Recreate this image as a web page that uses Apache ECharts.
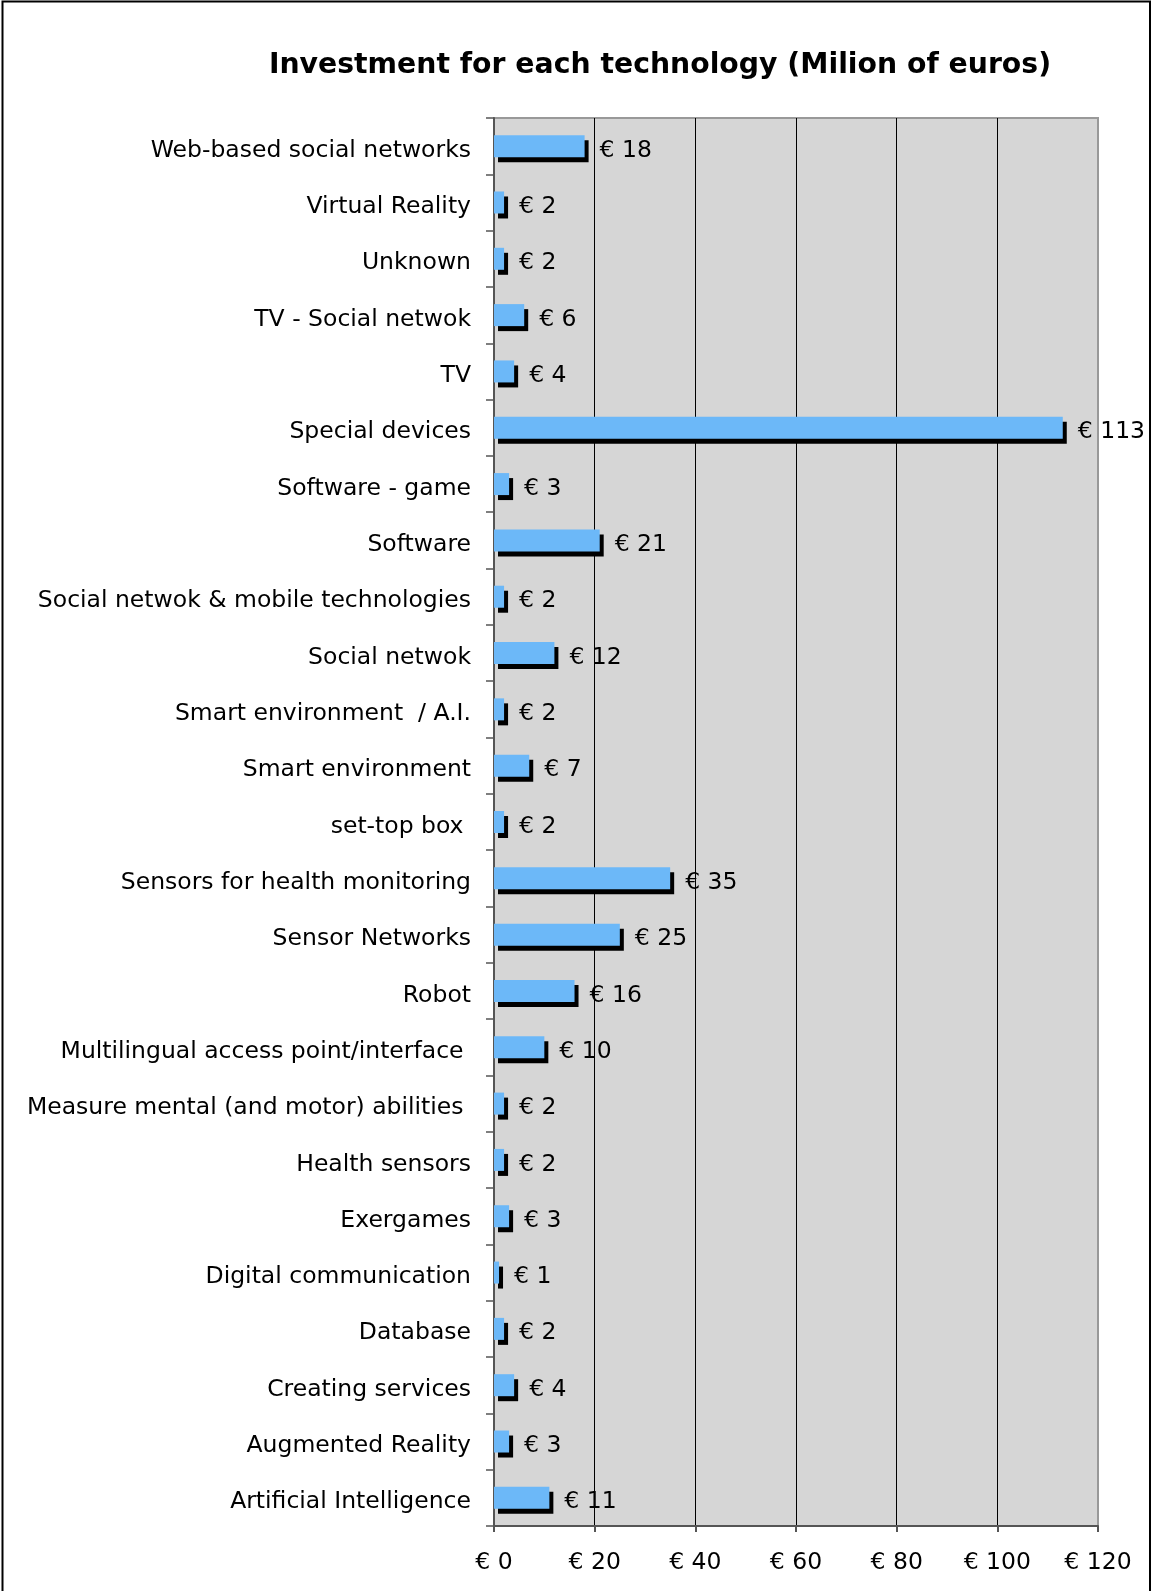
<!DOCTYPE html>
<html>
<head>
<meta charset="utf-8">
<script src="https://cdn.jsdelivr.net/npm/echarts@6/dist/echarts.min.js"></script>
<style>
  html, body { margin: 0; padding: 0; background: #fff; }
  #chart { width: 1151px; height: 1591px; }
</style>
</head>
<body>
<div id="chart"></div>
<script>
// Technologies, listed top to bottom
const technologies = [
  'Web-based social networks',
  'Virtual Reality',
  'Unknown',
  'TV - Social netwok',
  'TV',
  'Special devices',
  'Software - game',
  'Software',
  'Social netwok & mobile technologies',
  'Social netwok',
  'Smart environment  / A.I.',
  'Smart environment',
  'set-top box ',
  'Sensors for health monitoring',
  'Sensor Networks',
  'Robot',
  'Multilingual access point/interface ',
  'Measure mental (and motor) abilities ',
  'Health sensors',
  'Exergames',
  'Digital communication',
  'Database',
  'Creating services',
  'Augmented Reality',
  'Artificial Intelligence'
];

// Investment in millions of euros
const investment = [18, 2, 2, 6, 4, 113, 3, 21, 2, 12, 2, 7, 2, 35, 25, 16, 10, 2, 2, 3, 1, 2, 4, 3, 11];

// Value axis range
const axisMin = 0;
const axisMax = 120;
const axisStep = 20;

const FONT = '"DejaVu Sans", Verdana, sans-serif';

const chart = echarts.init(document.getElementById('chart'), null, { renderer: 'canvas' });

chart.setOption({
  animation: false,
  backgroundColor: '#ffffff',
  title: {
    text: 'Investment for each technology (Milion of euros)',
    left: 655,
    top: 47,
    textAlign: 'center',
    textStyle: { fontFamily: FONT, fontWeight: 'bold', fontSize: 28.3, color: '#000' }
  },
  graphic: [{
    type: 'polyline',
    shape: { points: [[2.5, 1591], [2.5, 1.5], [1150, 1.5], [1150, 1591]] },
    style: { stroke: '#000', lineWidth: 2, fill: null },
    silent: true
  }],
  grid: {
    left: 494,
    right: 53,
    top: 118,
    bottom: 65,
    show: true,
    backgroundColor: '#d6d6d6',
    borderColor: '#999999',
    borderWidth: 2,
    containLabel: false
  },
  xAxis: {
    type: 'value',
    min: axisMin,
    max: axisMax,
    interval: axisStep,
    axisLine: { show: true, lineStyle: { color: '#555', width: 2 } },
    axisTick: { show: true, length: 6, lineStyle: { color: '#555', width: 2 } },
    axisLabel: {
      margin: 25,
      fontFamily: FONT,
      fontSize: 23.5,
      color: '#000',
      formatter: v => '€ ' + v
    },
    splitLine: {
      show: true,
      showMinLine: false,
      showMaxLine: false,
      lineStyle: { color: '#000', width: 1 }
    }
  },
  yAxis: {
    type: 'category',
    inverse: true,
    data: technologies,
    axisLine: { show: true, lineStyle: { color: '#555', width: 2 } },
    axisTick: { show: true, length: 8, lineStyle: { color: '#555', width: 1.5 } },
    axisLabel: {
      margin: 23,
      verticalAlign: 'top',
      lineHeight: 9,
      fontFamily: FONT,
      fontSize: 23.5,
      color: '#000'
    },
    splitLine: { show: false }
  },
  series: [{
    type: 'bar',
    data: investment,
    barWidth: 22,
    itemStyle: {
      color: '#6cb8f8',
      shadowColor: '#000',
      shadowBlur: 0,
      shadowOffsetX: 4,
      shadowOffsetY: 5
    },
    label: {
      show: true,
      position: 'right',
      distance: 15,
      verticalAlign: 'top',
      lineHeight: 9,
      fontFamily: FONT,
      fontSize: 23.5,
      color: '#000',
      formatter: p => '€ ' + p.value
    }
  }]
});
</script>
</body>
</html>
